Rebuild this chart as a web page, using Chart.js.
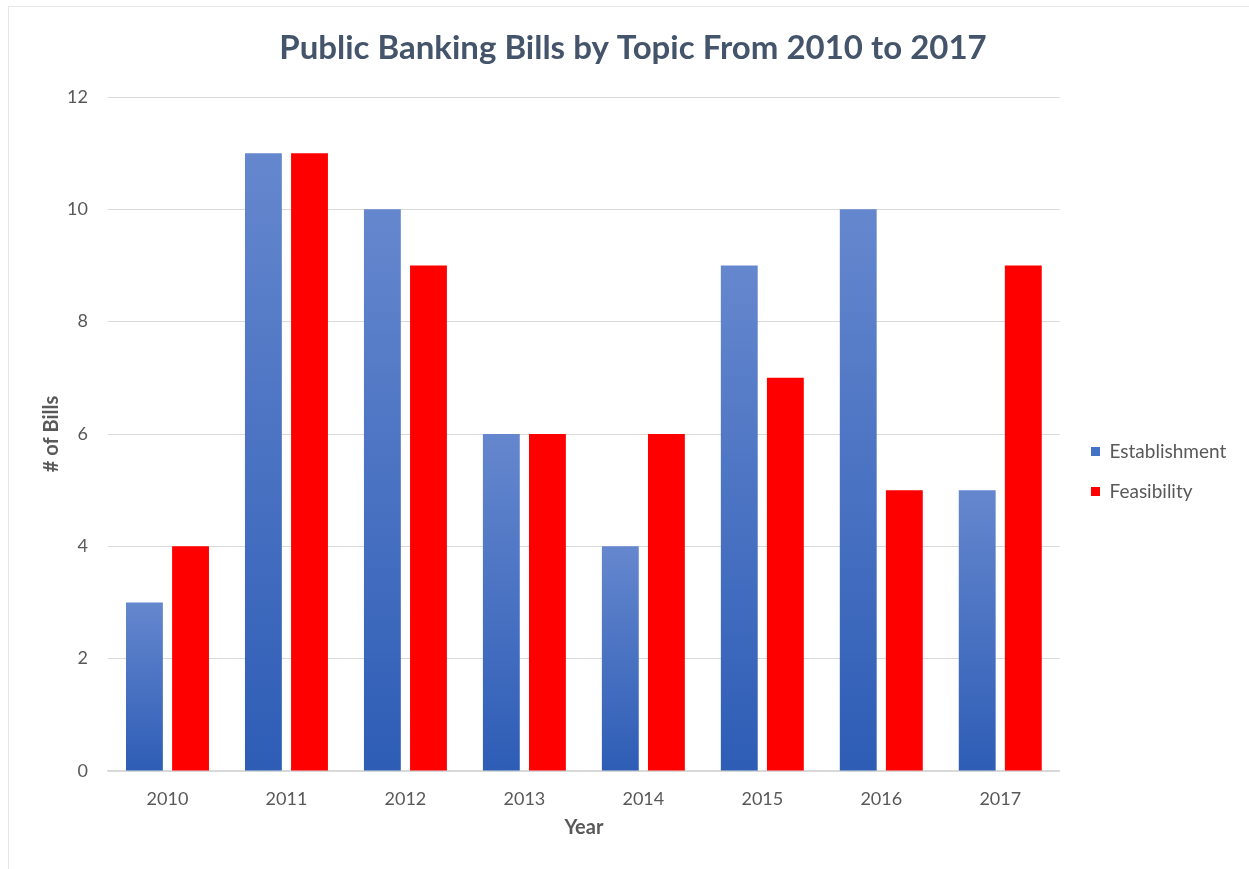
<!DOCTYPE html>
<html>
<head>
<meta charset="utf-8">
<script src="https://cdn.jsdelivr.net/npm/chart.js@4.4.1/dist/chart.umd.min.js"></script>
<style>
  html, body { margin: 0; padding: 0; background: #ffffff; }
  #frame {
    position: absolute; left: 8px; top: 6px; width: 1241px; height: 863px;
    border-left: 1px solid #e6e6e6; border-top: 1px solid #e6e6e6;
  }
  #wrap { position: absolute; left: 0; top: 0; width: 1249px; height: 869px; }
</style>
</head>
<body>
<div id="frame"></div>
<div id="wrap"><canvas id="chart" width="1249" height="869"></canvas></div>
<script>
const years = ['2010', '2011', '2012', '2013', '2014', '2015', '2016', '2017'];
const establishment = [3, 11, 10, 6, 4, 9, 10, 5];
const feasibility = [4, 11, 9, 6, 6, 7, 5, 9];
const yTicks = [0, 2, 4, 6, 8, 10, 12];

const textColor = '#595959';
const titleColor = '#44546A';
const gridColor = '#d9d9d9';

// Vertical gradient for each blue bar: lighter at the top, deeper at the base
function blueFill(ctx) {
  const chart = ctx.chart;
  if (!chart.chartArea || ctx.type !== 'data') return '#4472C4';
  const y = chart.scales.y;
  const top = y.getPixelForValue(ctx.raw);
  const bottom = y.getPixelForValue(0);
  if (!isFinite(top) || !isFinite(bottom) || top === bottom) return '#4472C4';
  const g = chart.ctx.createLinearGradient(0, top, 0, bottom);
  g.addColorStop(0, '#6587CE');
  g.addColorStop(1, '#2E5DB6');
  return g;
}

// Places the legend block beside the plot, a little below its middle
const legendPlacement = {
  id: 'legendPlacement',
  afterLayout(chart) {
    const lg = chart.legend;
    if (!lg) return;
    const dx = 1070 - lg.left;
    const dy = 50;
    lg.left += dx; lg.right += dx;
    lg.top += dy; lg.bottom += dy;
  }
};

new Chart(document.getElementById('chart'), {
  type: 'bar',
  plugins: [legendPlacement],
  data: {
    labels: years,
    datasets: [
      {
        label: 'Establishment',
        data: establishment,
        backgroundColor: blueFill,
        borderWidth: 0,
        categoryPercentage: 0.775,
        barPercentage: 0.8
      },
      {
        label: 'Feasibility',
        data: feasibility,
        backgroundColor: '#FF0000',
        borderWidth: 0,
        categoryPercentage: 0.775,
        barPercentage: 0.8
      }
    ]
  },
  options: {
    responsive: false,
    animation: false,
    layout: { padding: { left: 40, right: 23, top: 0, bottom: 26 } },
    plugins: {
      title: {
        display: true,
        text: 'Public Banking Bills by Topic From 2010 to 2017',
        color: titleColor,
        font: { family: 'Lato', size: 33, weight: 'bold' },
        padding: { top: 29, bottom: 28.4 }
      },
      legend: {
        position: 'right',
        align: 'center',
        labels: {
          color: textColor,
          font: { family: 'Lato', size: 19 },
          boxWidth: 9,
          boxHeight: 9,
          padding: 21,
          generateLabels(chart) {
            const fills = ['#4472C4', '#FF0000'];
            return chart.data.datasets.map((ds, i) => ({
              text: ds.label,
              fillStyle: fills[i],
              strokeStyle: fills[i],
              lineWidth: 0,
              fontColor: textColor,
              datasetIndex: i,
              hidden: !chart.isDatasetVisible(i)
            }));
          }
        }
      },
      tooltip: { enabled: false }
    },
    scales: {
      x: {
        grid: { display: false, drawTicks: false },
        border: { display: true, color: gridColor, width: 1.5 },
        ticks: { color: textColor, font: { family: 'Lato', size: 18 }, padding: 17 },
        title: {
          display: true,
          text: 'Year',
          color: textColor,
          font: { family: 'Lato', size: 20, weight: 'bold' },
          padding: { top: 6, bottom: 3 }
        },
        afterFit(scale) { scale.height = 869 - 771 - 26; }
      },
      y: {
        min: 0,
        max: 12,
        afterBuildTicks(scale) { scale.ticks = yTicks.map(v => ({ value: v })); },
        grid: { color: gridColor, lineWidth: 1, drawTicks: false },
        border: { display: false },
        ticks: { color: textColor, font: { family: 'Lato', size: 18 }, padding: 20 },
        title: {
          display: true,
          text: '# of Bills',
          color: textColor,
          font: { family: 'Lato', size: 20, weight: 'bold' },
          padding: { top: 0, bottom: 8 }
        },
        afterFit(scale) { scale.width = 108 - 40; }
      }
    }
  }
});
</script>
</body>
</html>
